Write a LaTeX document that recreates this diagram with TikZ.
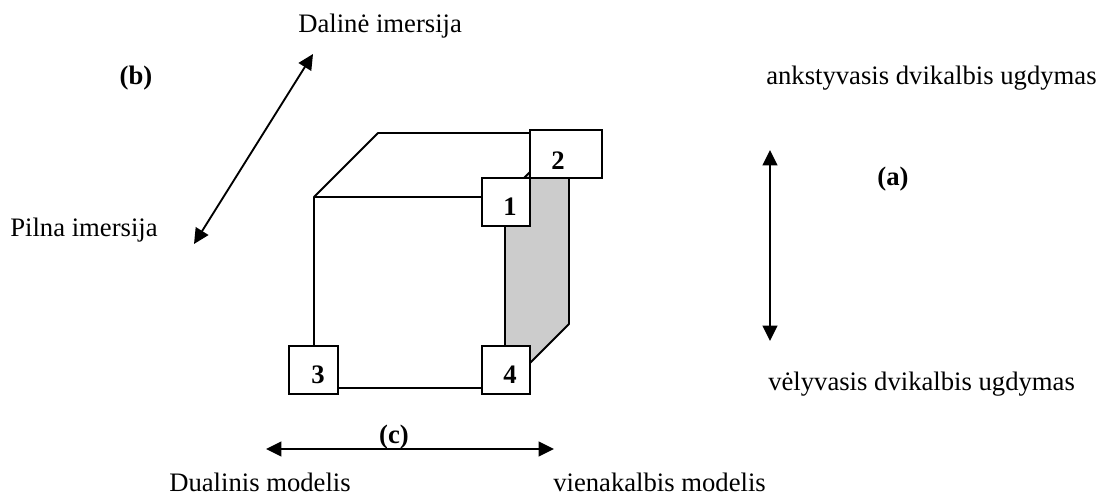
\documentclass[tikz,border=0pt]{standalone}
\usepackage{fontspec}
\setmainfont{Liberation Serif}
\usetikzlibrary{arrows.meta}
\newcommand\numshift[3]{\makebox[0pt]{\hspace*{#1}\raisebox{#2}[0pt][0pt]{#3}}}
\begin{document}
\begin{tikzpicture}[x=0.75pt,y=-0.75pt,
  txt/.style={inner sep=0pt,font=\fontsize{20}{24}\selectfont},
  btxt/.style={inner sep=0pt,font=\fontsize{20}{24}\selectfont\bfseries},
  edge/.style={line width=1.4pt},
  numbox/.style={draw,line width=1.4pt,fill=white,inner sep=0pt,font=\fontsize{20}{24}\selectfont\bfseries},
  dbl/.style={line width=1.4pt,{Triangle[length=11.5pt,width=11pt]}-{Triangle[length=11.5pt,width=11pt]}}]
\useasboundingbox (0,0) rectangle (1099,498);
% cube vertices
\coordinate (fTL) at (314,197);
\coordinate (fTR) at (505,197);
\coordinate (fBL) at (314,388);
\coordinate (fBR) at (505,388);
\coordinate (bTL) at (378,133);
\coordinate (bTR) at (569,133);
\coordinate (bBR) at (569,324);
% shaded right face
\fill[gray!40] (fTR) -- (bTR) -- (bBR) -- (fBR) -- cycle;
\draw[edge,line join=round] (fBL) -- (fTL) -- (bTL) -- (bTR) -- (bBR) -- (fBR) -- cycle;
\draw[edge] (fTL) -- (fTR) -- (bTR);
\draw[edge] (fTR) -- (fBR);
% boxes
\node[numbox,minimum width=54pt,minimum height=36pt] (b2) at (566,154) {\numshift{-12pt}{-11.3pt}{2}};
\node[numbox,minimum width=36pt,minimum height=36pt] (b1) at (506,202) {\numshift{6pt}{-9.8pt}{1}};
\node[numbox,minimum width=36.5pt,minimum height=36pt] (b3) at (313.5,370) {\numshift{6.75pt}{-10.5pt}{3}};
\node[numbox,minimum width=36pt,minimum height=36pt] (b4) at (506,370) {\numshift{6pt}{-10.5pt}{4}};
% arrows
\coordinate (bTip) at (313,54);
\coordinate (bTail) at (194,244);
\draw[dbl] (bTail) -- (bTip);
\coordinate (aTop) at (770,150);
\coordinate (aBot) at (770,341);
\draw[dbl] (aTop) -- (aBot);
\coordinate (cL) at (266,449);
\coordinate (cR) at (554,449);
\draw[dbl] (cL) -- (cR);
% labels
\node[txt,anchor=base west] (dal) at (298,33) {Dalinė imersija};
\node[btxt] (lb) at (136,78) {(b)};
\node[txt,anchor=base west] (ank) at (766,85) {ankstyvasis dvikalbis ugdymas};
\node[btxt] (la) at (893,179) {(a)};
\node[txt,anchor=base west] (pil) at (10,237) {Pilna imersija};
\node[txt,anchor=base west] (vel) at (768,391) {vėlyvasis dvikalbis ugdymas};
\node[btxt] (lc) at (394,437) {(c)};
\node[txt,anchor=base west] (dua) at (169,491) {Dualinis modelis};
\node[txt,anchor=base west] (vie) at (553,491) {vienakalbis modelis};
\end{tikzpicture}
\end{document}
